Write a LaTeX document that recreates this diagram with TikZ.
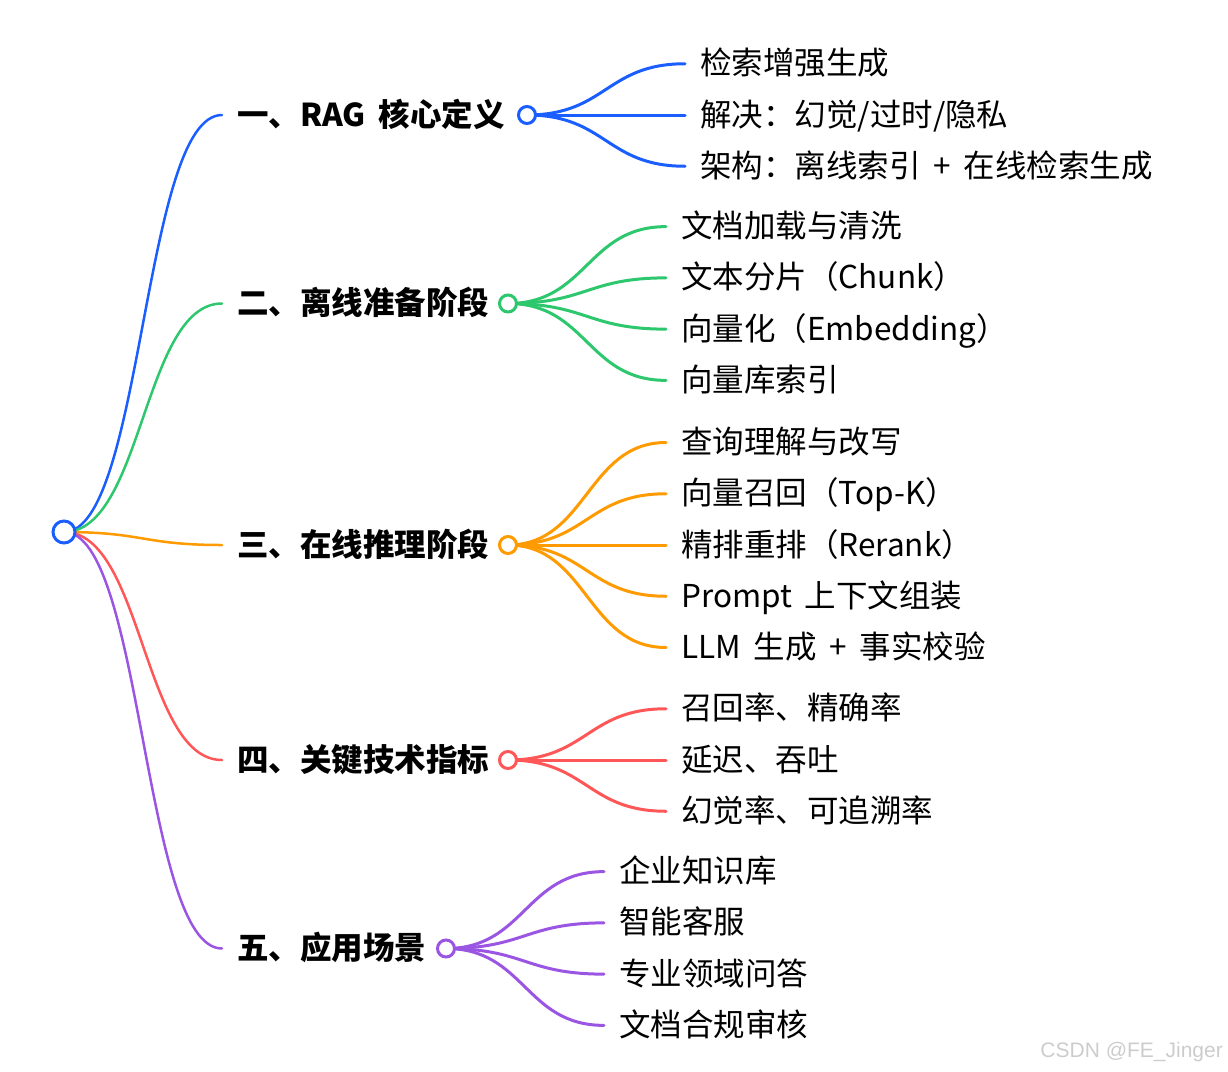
\documentclass[tikz,border=0pt]{standalone}
\usepackage{fontspec}
\setmainfont[WordSpace=1.8]{Noto Sans CJK SC}
\newfontfamily\markfont{Liberation Sans}
\usetikzlibrary{calc,backgrounds}

\definecolor{mmblue}{HTML}{1A5EFF}
\definecolor{mmgreen}{HTML}{2DC76D}
\definecolor{mmorange}{HTML}{FF9A00}
\definecolor{mmred}{HTML}{FF5757}
\definecolor{mmpurple}{HTML}{9B55E3}

\tikzset{
  leaf/.style={anchor=west, inner ysep=0pt, inner xsep=15pt,
    text height=26pt, text depth=4pt, font=\fontsize{31.5}{32}\selectfont},
  topic/.style={leaf, font=\fontsize{31.5}{32}\selectfont\bfseries},
  knob/.style={circle, draw=#1, fill=white, line width=3pt,
    minimum size=17pt, inner sep=0pt},
  link/.style={line width=3pt, line cap=round}
}
% horizontal s-curve between two points
\newcommand{\mmlink}[3]{\draw[link,#1] let \p1=(#2), \p2=(#3) in
  (\p1) .. controls ({(\x1+\x2)/2},\y1) and ({(\x1+\x2)/2},\y2) .. (\p2);}

\begin{document}
\begin{tikzpicture}[x=1pt,y=-1pt]
\useasboundingbox (0,0) rectangle (1228,1071);
\node[knob=mmblue, minimum size=22pt] (root) at (64,532) {};

\node[topic] (t1) at (222,115) {一、RAG 核心定义};
\node[topic] (t2) at (222,303.5) {二、离线准备阶段};
\node[topic] (t3) at (222,545) {三、在线推理阶段};
\node[topic] (t4) at (222,760) {四、关键技术指标};
\node[topic] (t5) at (222,948.5) {五、应用场景};

\node[knob=mmblue] (k1) at (527,115) {};
\node[knob=mmgreen] (k2) at (508,303.5) {};
\node[knob=mmorange] (k3) at (508,545) {};
\node[knob=mmred] (k4) at (508,760) {};
\node[knob=mmpurple] (k5) at (446,948.5) {};

\foreach \t [count=\i] in {检索增强生成, 解决：幻觉/过时/隐私, 架构：离线索引 + 在线检索生成}
  \node[leaf] (l1-\i) at (685,{115+(\i-2)*51.25}) {\t};
\foreach \t [count=\i] in {文档加载与清洗, 文本分片（Chunk）, 向量化（Embedding）, 向量库索引}
  \node[leaf] (l2-\i) at (666,{303.5+(\i-2.5)*51.25}) {\t};
\foreach \t [count=\i] in {查询理解与改写, 向量召回（Top-K）, 精排重排（Rerank）, Prompt 上下文组装, LLM 生成 + 事实校验}
  \node[leaf] (l3-\i) at (666,{545+(\i-3)*51.25}) {\t};
\foreach \t [count=\i] in {召回率、精确率, 延迟、吞吐, 幻觉率、可追溯率}
  \node[leaf] (l4-\i) at (666,{760+(\i-2)*51.25}) {\t};
\foreach \t [count=\i] in {企业知识库, 智能客服, 专业领域问答, 文档合规审核}
  \node[leaf] (l5-\i) at (604,{948.5+(\i-2.5)*51.25}) {\t};

\node[anchor=east, inner sep=0pt, text=gray!40, font=\markfont\fontsize{21}{21}\selectfont]
  (mark) at (1223,1052) {CSDN @FE\_Jinger};

\begin{pgfonlayer}{background}
\foreach \b/\c in {1/mmblue, 2/mmgreen, 3/mmorange, 4/mmred, 5/mmpurple}
  \mmlink{\c, line width=2.5pt}{root.center}{t\b.west};
\foreach \i in {1,2,3} \mmlink{mmblue}{k1.center}{l1-\i.west};
\foreach \i in {1,...,4} \mmlink{mmgreen}{k2.center}{l2-\i.west};
\foreach \i in {1,...,5} \mmlink{mmorange}{k3.center}{l3-\i.west};
\foreach \i in {1,2,3} \mmlink{mmred}{k4.center}{l4-\i.west};
\foreach \i in {1,...,4} \mmlink{mmpurple}{k5.center}{l5-\i.west};
\end{pgfonlayer}
\end{tikzpicture}
\end{document}
